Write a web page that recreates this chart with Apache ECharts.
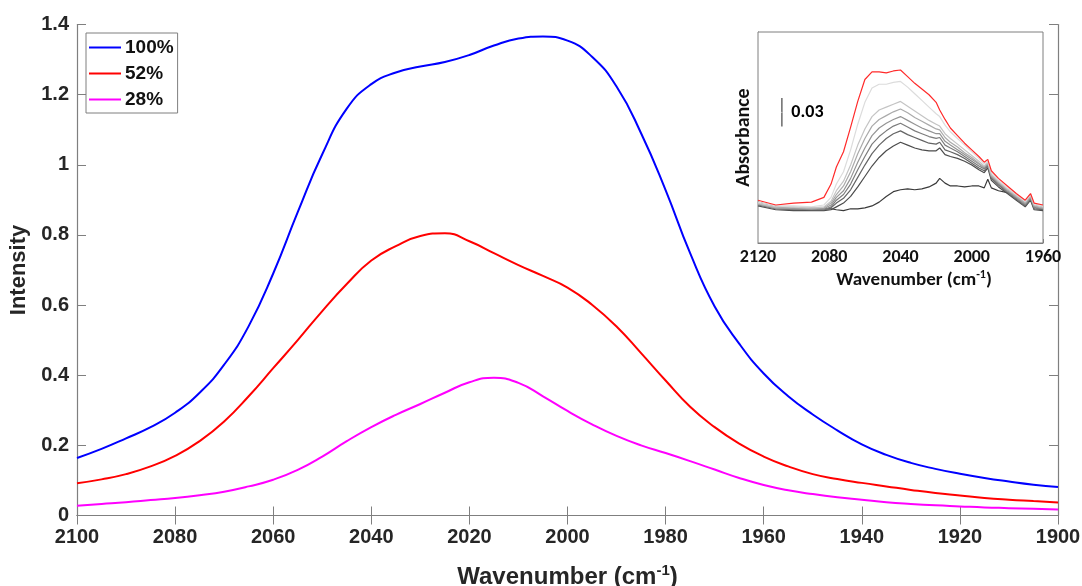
<!DOCTYPE html>
<html>
<head>
<meta charset="utf-8">
<script src="https://cdn.jsdelivr.net/npm/echarts@6/dist/echarts.min.js"></script>
<style>
html,body{margin:0;padding:0;background:#fff;}
#chart{width:1082px;height:586px;}
</style>
</head>
<body>
<div id="chart"></div>
<script>
// ---------- Main chart data ----------
const mainWavenumbers = [2100,2095,2090,2085,2080,2075,2070,2065,2060,2055,2050,2045,2040,2035,2030,2025,2020,2015,2010,2005,2000,1995,1990,1985,1980,1975,1970,1965,1960,1955,1950,1945,1940,1935,1930,1925,1920,1915,1910,1905,1900];
const series100 = [0.164,0.190,0.220,0.252,0.293,0.350,0.430,0.540,0.690,0.865,1.030,1.160,1.230,1.263,1.280,1.293,1.313,1.340,1.360,1.366,1.354,1.308,1.223,1.090,0.928,0.748,0.596,0.490,0.405,0.340,0.288,0.243,0.203,0.173,0.150,0.133,0.119,0.107,0.097,0.088,0.081];
const series52  = [0.092,0.103,0.118,0.140,0.170,0.212,0.268,0.340,0.420,0.500,0.583,0.660,0.727,0.768,0.797,0.805,0.782,0.748,0.714,0.683,0.650,0.601,0.539,0.463,0.385,0.310,0.252,0.205,0.168,0.140,0.118,0.104,0.093,0.083,0.073,0.064,0.057,0.050,0.045,0.041,0.037];
const series28  = [0.028,0.033,0.038,0.044,0.050,0.058,0.068,0.083,0.102,0.130,0.168,0.212,0.252,0.287,0.318,0.350,0.380,0.393,0.378,0.340,0.298,0.260,0.227,0.200,0.178,0.155,0.131,0.107,0.087,0.072,0.061,0.052,0.045,0.038,0.033,0.029,0.026,0.023,0.021,0.019,0.017];
const seriesNames = ['100%','52%','28%'];
const mainXTicks = {min:1900, max:2100, interval:20};
const mainYTicks = {min:0, max:1.4, interval:0.2};

// ---------- Inset data ----------
const insetWavenumbers = [2120,2110,2100,2090,2083,2079,2076,2072,2068,2064,2060,2056,2052,2048,2044,2040,2036,2032,2028,2024,2020,2018,2015,2012,2008,2004,2000,1996,1993,1991,1989,1985,1980,1975,1970,1967,1965,1960];
const insetRed   = [0.045,0.040,0.042,0.043,0.048,0.062,0.080,0.096,0.122,0.149,0.172,0.180,0.180,0.179,0.181,0.182,0.175,0.168,0.162,0.156,0.148,0.140,0.130,0.121,0.113,0.105,0.098,0.091,0.085,0.088,0.076,0.068,0.060,0.052,0.045,0.052,0.042,0.040];
const insetG1    = [0.043,0.039,0.039,0.038,0.040,0.048,0.062,0.075,0.098,0.125,0.148,0.163,0.167,0.167,0.169,0.170,0.164,0.157,0.150,0.143,0.136,0.133,0.124,0.117,0.110,0.103,0.096,0.089,0.083,0.086,0.074,0.066,0.058,0.051,0.044,0.051,0.041,0.039];
const insetG2    = [0.042,0.038,0.038,0.037,0.038,0.044,0.055,0.065,0.082,0.103,0.120,0.133,0.140,0.143,0.146,0.149,0.144,0.139,0.134,0.129,0.125,0.123,0.115,0.110,0.104,0.098,0.092,0.086,0.081,0.085,0.072,0.065,0.057,0.050,0.043,0.050,0.040,0.038];
const insetG3    = [0.041,0.037,0.037,0.036,0.037,0.042,0.051,0.060,0.075,0.094,0.110,0.123,0.130,0.134,0.138,0.141,0.137,0.132,0.128,0.124,0.120,0.119,0.111,0.106,0.101,0.095,0.090,0.084,0.080,0.084,0.071,0.064,0.056,0.049,0.042,0.049,0.039,0.037];
const insetG4    = [0.041,0.037,0.036,0.036,0.036,0.040,0.048,0.055,0.068,0.085,0.100,0.113,0.121,0.126,0.130,0.133,0.129,0.125,0.121,0.118,0.115,0.115,0.107,0.103,0.098,0.093,0.088,0.083,0.079,0.083,0.070,0.063,0.055,0.048,0.041,0.048,0.038,0.036];
const insetG5    = [0.040,0.036,0.036,0.035,0.035,0.038,0.045,0.051,0.062,0.077,0.091,0.104,0.112,0.118,0.123,0.126,0.122,0.118,0.115,0.112,0.110,0.111,0.103,0.100,0.096,0.091,0.086,0.081,0.078,0.082,0.069,0.062,0.054,0.047,0.040,0.047,0.037,0.036];
const insetG6    = [0.040,0.036,0.035,0.035,0.035,0.037,0.042,0.047,0.056,0.069,0.082,0.094,0.103,0.110,0.115,0.118,0.114,0.111,0.108,0.105,0.104,0.106,0.098,0.096,0.093,0.089,0.084,0.079,0.076,0.081,0.068,0.061,0.053,0.046,0.039,0.046,0.036,0.035];
const insetG7    = [0.039,0.035,0.034,0.034,0.034,0.035,0.038,0.042,0.049,0.059,0.070,0.081,0.090,0.097,0.102,0.106,0.103,0.100,0.098,0.097,0.097,0.100,0.093,0.091,0.089,0.086,0.082,0.077,0.074,0.079,0.066,0.059,0.052,0.045,0.038,0.045,0.035,0.034];
const insetBlack = [0.043,0.038,0.036,0.037,0.036,0.036,0.035,0.034,0.036,0.036,0.037,0.039,0.043,0.049,0.054,0.056,0.057,0.056,0.057,0.059,0.063,0.068,0.063,0.060,0.060,0.059,0.060,0.060,0.058,0.067,0.058,0.055,0.053,0.050,0.042,0.050,0.038,0.035];
const insetCurves = [insetBlack, insetG7, insetG6, insetG5, insetG4, insetG3, insetG2, insetG1, insetRed];
const insetColors = ['#3a3a3a','#4c4c4c','#646464','#7c7c7c','#949494','#aaaaaa','#c4c4c4','#dcdcdc','#ff2a2a'];
const insetXTicks = {min:1960, max:2120, interval:40};
const insetYRange = {min:0, max:0.222};
const scaleBar = [[2106.6,0.1225],[2106.6,0.1525]];
const scaleBarLabelPos = [2106.6,0.1375];
const scaleBarLabel = '0.03';

// ---------- Build ----------
const AR = 'Liberation Sans, Arial, sans-serif';
const CAL = 'Carlito, Lato, sans-serif';
const AX = '#7f7f7f';
const TXT = '#262626';
const plain = v => String(v);

function zip(xs, ys){ return xs.map((x,i)=>[x, ys[i]]); }

const mainColors = ['#0000ff','#ff0000','#ff00ff'];
const mainData = [series100, series52, series28];

const series = [];
mainData.forEach((d,i)=>{
  series.push({
    name: seriesNames[i], type:'line', xAxisIndex:0, yAxisIndex:0,
    data: zip(mainWavenumbers, d), smooth:0.5, showSymbol:false, symbol:'none',
    lineStyle:{color:mainColors[i], width:2}, itemStyle:{color:mainColors[i]},
    z:5
  });
});
insetCurves.forEach((d,i)=>{
  series.push({
    name:'inset'+i, type:'line', xAxisIndex:2, yAxisIndex:2,
    data: zip(insetWavenumbers, d), smooth:false, showSymbol:false, symbol:'none',
    lineStyle:{color:insetColors[i], width:1.2}, z:6, silent:true
  });
});
series.push({
  name:'scalebar', type:'line', xAxisIndex:2, yAxisIndex:2,
  data: scaleBar, showSymbol:false, symbol:'none',
  lineStyle:{color:'#6a6a6a', width:1.5}, z:7, silent:true
});
series.push({
  name:'scalebarLabel', type:'scatter', xAxisIndex:2, yAxisIndex:2,
  data:[scaleBarLabelPos], symbol:'circle', symbolSize:1,
  itemStyle:{color:'#ffffff', opacity:1},
  label:{show:true, formatter:scaleBarLabel, position:'right', distance:9, fontFamily:CAL, fontWeight:'bold', fontSize:18, color:'#000', opacity:1},
  emphasis:{disabled:true},
  z:8, silent:true
});

const chart = echarts.init(document.getElementById('chart'), null, {renderer:'canvas'});
chart.setOption({
  animation:false,
  backgroundColor:'#fff',
  grid:[
    {left:77, top:24.5, width:981, height:491, containLabel:false, outerBoundsMode:'none'},
    {left:758, top:32, width:285, height:211, containLabel:false, outerBoundsMode:'none', show:true, borderColor:AX, borderWidth:1, backgroundColor:'#fff', z:3}
  ],
  legend:{
    data:seriesNames, orient:'vertical', left:86, top:33,
    padding:[5,4,4,3], itemGap:7, itemWidth:32, itemHeight:2, icon:'rect',
    borderColor:AX, borderWidth:1, backgroundColor:'#fff',
    textStyle:{fontFamily:AR, fontWeight:'bold', fontSize:19, color:'#111', padding:[0,0,0,-1]}
  },
  xAxis:[
    {gridIndex:0, type:'value', min:mainXTicks.min, max:mainXTicks.max, interval:mainXTicks.interval, inverse:true, position:'bottom',
     axisLine:{lineStyle:{color:AX, width:1.2}}, axisTick:{inside:true, length:9, lineStyle:{color:AX}},
     axisLabel:{fontFamily:AR, fontWeight:'bold', fontSize:20, color:TXT, margin:12, formatter:plain},
     splitLine:{show:false},
     name:'{a|Wavenumber (cm}{s|-1}{a|)}', nameLocation:'middle', nameGap:48,
     nameTextStyle:{rich:{a:{fontFamily:AR, fontWeight:'bold', fontSize:24, color:TXT, lineHeight:28}, s:{fontFamily:AR, fontWeight:'bold', fontSize:15, color:TXT, verticalAlign:'top', lineHeight:28}}}
    },
    {gridIndex:0, type:'value', min:mainXTicks.min, max:mainXTicks.max, interval:mainXTicks.interval, inverse:true, position:'top',
     axisLine:{lineStyle:{color:AX, width:1.2}}, axisTick:{inside:true, length:9, lineStyle:{color:AX}},
     axisLabel:{show:false}, splitLine:{show:false}},
    {gridIndex:1, type:'value', min:insetXTicks.min, max:insetXTicks.max, interval:insetXTicks.interval, inverse:true, position:'bottom',
     axisLine:{lineStyle:{color:AX, width:1}}, axisTick:{inside:true, length:4, lineStyle:{color:AX}},
     minorTick:{show:true, splitNumber:2, length:3, lineStyle:{color:AX}},
     axisLabel:{fontFamily:CAL, fontWeight:'bold', fontSize:18, color:'#111', margin:5, formatter:plain},
     splitLine:{show:false},
     name:'{a|Wavenumber (cm}{s|-1}{a|)}', nameLocation:'middle', nameGap:26,
     nameTextStyle:{padding:[0,0,0,27], rich:{a:{fontFamily:CAL, fontWeight:'bold', fontSize:19, color:'#111', lineHeight:22}, s:{fontFamily:CAL, fontWeight:'bold', fontSize:12, color:'#111', verticalAlign:'top', lineHeight:22}}}
    }
  ],
  yAxis:[
    {gridIndex:0, type:'value', min:mainYTicks.min, max:mainYTicks.max, interval:mainYTicks.interval, position:'left',
     axisLine:{show:true, lineStyle:{color:AX, width:1.2}}, axisTick:{show:true, inside:true, length:9, lineStyle:{color:AX}},
     axisLabel:{fontFamily:AR, fontWeight:'bold', fontSize:20, color:TXT, margin:8},
     splitLine:{show:false},
     name:'Intensity', nameLocation:'middle', nameGap:41,
     nameTextStyle:{fontFamily:AR, fontWeight:'bold', fontSize:22, color:TXT}
    },
    {gridIndex:0, type:'value', min:mainYTicks.min, max:mainYTicks.max, interval:mainYTicks.interval, position:'right',
     axisLine:{show:true, lineStyle:{color:AX, width:1.2}}, axisTick:{show:true, inside:true, length:9, lineStyle:{color:AX}},
     axisLabel:{show:false}, splitLine:{show:false}},
    {gridIndex:1, type:'value', min:insetYRange.min, max:insetYRange.max, position:'left',
     axisLine:{show:true, lineStyle:{color:AX}}, axisTick:{show:false}, axisLabel:{show:false}, splitLine:{show:false},
     name:'Absorbance', nameLocation:'middle', nameGap:4,
     nameTextStyle:{fontFamily:CAL, fontWeight:'bold', fontSize:20, color:'#111'}
    }
  ],
  series: series
});
</script>
</body>
</html>
